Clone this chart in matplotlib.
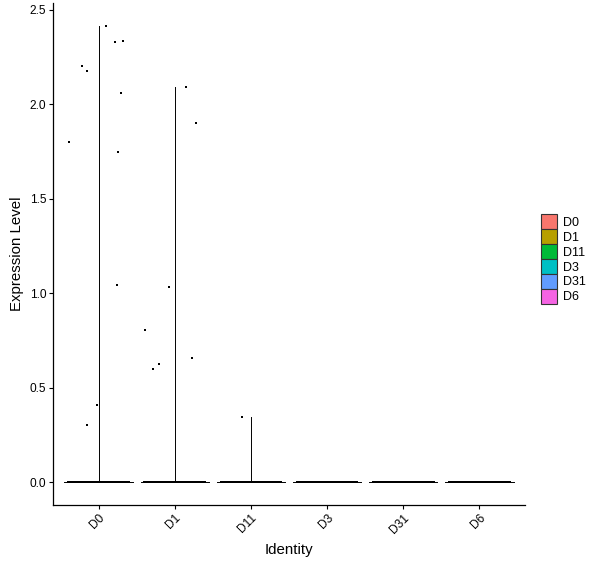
import numpy as np
import matplotlib.pyplot as plt
from matplotlib.patches import Patch

plt.rcParams['font.family'] = ['Liberation Sans', 'DejaVu Sans']

# groups and their colours (ggplot default hue palette)
groups = ["D0", "D1", "D11", "D3", "D31", "D6"]
colors = ["#F8766D", "#B79F00", "#00BA38", "#00BFC4", "#619CFF", "#F564E3"]

# non-zero expression values
nonzero = {
    "D0": [2.415, 2.336, 2.33, 2.20, 2.174, 2.058, 1.802, 1.749, 1.046, 0.407, 0.301],
    "D1": [2.093, 1.899, 1.031, 0.803, 0.655, 0.624, 0.597],
    "D11": [0.344],
    "D3": [],
    "D31": [],
    "D6": [],
}
# cells with zero expression (estimated)
n_zero = [600, 600, 600, 600, 600, 600]

fig = plt.figure(figsize=(6.0, 5.68), dpi=100)
ax = fig.add_axes([53/600, 63/568, 472/600, 502/568])

rng = np.random.default_rng(7)
for i, g in enumerate(groups):
    x0 = i + 1
    vals = np.array(nonzero[g] + [0.0] * n_zero[i])
    # violin outline: almost all density at zero, thin tail up to the max
    ax.plot([x0 - 0.45, x0 + 0.45], [0, 0], color="black", lw=0.7, zorder=2)
    if vals.max() > 0:
        ax.plot([x0, x0], [0, vals.max()], color="black", lw=0.7, zorder=2)
    jit = rng.uniform(-0.4, 0.4, len(vals))
    ax.scatter(x0 + jit, vals, s=2.4, marker="s", color="black",
               linewidths=0, zorder=3)

ax.set_xlim(0.4, 6.6)
ax.set_ylim(-0.121, 2.536)
ax.set_xticks(range(1, len(groups) + 1))
ax.set_xticklabels(groups, rotation=45, ha="right", rotation_mode="anchor")
ax.set_yticks([0, 0.5, 1.0, 1.5, 2.0, 2.5])
ax.set_yticklabels(["0.0", "0.5", "1.0", "1.5", "2.0", "2.5"])
ax.tick_params(labelsize=8.6, length=3, width=0.8, colors="black", pad=2)
for s in ["top", "right"]:
    ax.spines[s].set_visible(False)
for s in ["left", "bottom"]:
    ax.spines[s].set_linewidth(0.9)

ax.set_xlabel("Identity", fontsize=10.8, labelpad=5)
ax.set_ylabel("Expression Level", fontsize=10.8, labelpad=4)

handles = [Patch(facecolor=c, edgecolor="#333333", linewidth=0.8) for c in colors]
fig.legend(handles, groups, loc="center left", bbox_to_anchor=(541/600, 1 - 259/568),
           frameon=False, fontsize=9, handlelength=1.3, handleheight=1.45,
           labelspacing=0.0, handletextpad=0.5, borderpad=0, borderaxespad=0)

fig.savefig("out.png", dpi=100)
